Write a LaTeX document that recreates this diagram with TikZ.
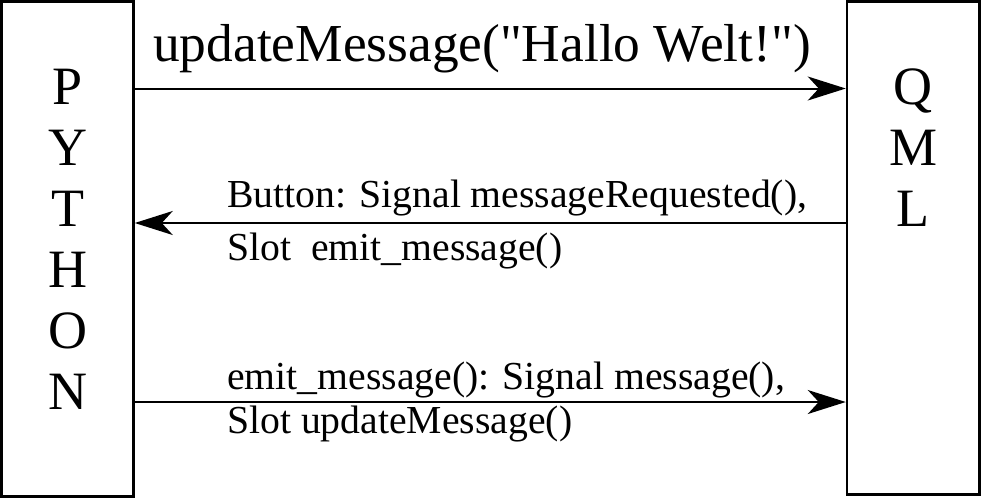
\documentclass[tikz,border=0pt]{standalone}
\usepackage{fontspec}
\setmainfont{Liberation Serif}[Ligatures=TeXOff]
\usetikzlibrary{arrows.meta}
\begin{document}
\begin{tikzpicture}[x=1pt,y=-1pt,
  box/.style={draw, line width=2.5pt, inner sep=0pt},
  letter/.style={anchor=base, inner sep=0pt, font=\fontsize{54}{61}\selectfont},
  msg/.style={draw, line width=2pt, -{Stealth[length=38pt,width=24pt,inset=11pt]}},
  lbl/.style={anchor=base west, inner sep=0pt},
  big/.style={font=\fontsize{53.4}{60}\selectfont},
  mid/.style={font=\fontsize{39.7}{48}\selectfont}]
\useasboundingbox (0,0) rectangle (981,499);

% the two sides
\node[box, minimum width=132pt, minimum height=495pt] (py) at (67.5,249) {};
\node[box, minimum width=132.5pt, minimum height=493pt] (qml) at (913.25,248) {};

% vertical captions
\foreach \c [count=\i from 0] in {P,Y,T,H,O,N}
  \node[letter] (py-\i) at (67.5,104+61*\i) {\c};
\foreach \c [count=\i from 0] in {Q,M,L}
  \node[letter] (qml-\i) at (913,104+61*\i) {\c};

% heights of the three messages
\coordinate (r1) at (0,88.5);
\coordinate (r2) at (0,223);
\coordinate (r3) at (0,402);

\draw[msg] (py.east |- r1) -- (qml.west |- r1);
\draw[msg] (qml.west |- r2) -- (py.east |- r2);
\draw[msg] (py.east |- r3) -- (qml.west |- r3);

% message labels
\node[lbl, big] (m1) at (153,61) {updateMessage("Hallo Welt!")};
\node[lbl, mid] (m2a) at (227,207) {Button: Signal messageRequested(),};
\node[lbl, mid] (m2b) at (227,260) {Slot\ \ emit\_message()};
\node[lbl, mid] (m3a) at (227,389) {emit\_message(): Signal message(),};
\node[lbl, mid] (m3b) at (227,433) {Slot updateMessage()};
\end{tikzpicture}
\end{document}
